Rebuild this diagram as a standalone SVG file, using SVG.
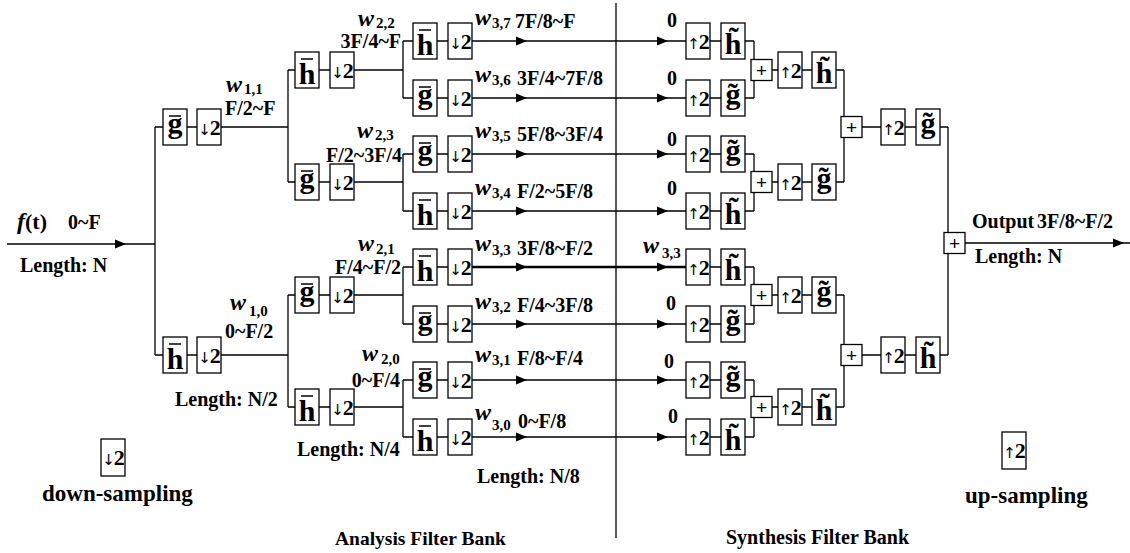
<svg xmlns="http://www.w3.org/2000/svg" xmlns:xlink="http://www.w3.org/1999/xlink" width="1130" height="553" viewBox="0 0 1130 553">
<style>
.b{fill:#fff;stroke:#000;stroke-width:1.3}
.t{font-family:"Liberation Serif","DejaVu Serif",serif;font-weight:bold;fill:#000}
.l{font-size:20px}
.op{font-size:22px;text-anchor:middle;letter-spacing:-1px}
.ar{font-family:"DejaVu Sans",sans-serif;font-weight:normal;font-size:15px;fill:#000}
.f{font-size:30px;text-anchor:middle}
.w{font-style:italic;font-size:24px}
.s{font-size:15px}
.e{text-anchor:end}
.pl{font-family:"Liberation Sans","DejaVu Sans",sans-serif;font-size:19px;text-anchor:middle;fill:#000}
.bar{stroke:#000;stroke-width:1.5}
.c path{stroke:#000;stroke-width:1.3;fill:none}
.ah{fill:#000}
</style>
<defs>
<path id="ah" d="M0 0L-11 -4.5L-11 4.5Z"/>
</defs>
<rect width="1130" height="553" fill="#fff"/>

<!-- connectors -->
<g id="connectors" class="c">
<path d="M7 244H155M155 127V355M155 127H163M155 355H163M187 127H197M187 355H197M221 127H288M221 355H288"/>
<path d="M288 70V182M288 295V407M288 70H295M288 182H295M288 295H295M288 407H295M319 70H330M319 182H330M319 295H330M319 407H330M354 70H403M354 182H403M354 295H403M354 407H403"/>
<path d="M403 41V98M403 154V211M403 267V324M403 380V437M403 41H413M403 98H413M403 154H413M403 211H413M403 267H413M403 324H413M403 380H413M403 437H413M437 41H448M437 98H448M437 154H448M437 211H448M437 267H448M437 324H448M437 380H448M437 437H448"/>
<path d="M472 41H686M472 98H686M472 154H686M472 211H686M472 324H686M472 380H686M472 437H686"/>
<path d="M472 267H686" style="stroke-width:2.6"/>
<path d="M616 3V538"/>
<path d="M710 41H721M710 98H721M710 154H721M710 211H721M710 267H721M710 324H721M710 380H721M710 437H721M745 41H754M745 98H754M745 154H754M745 211H754M745 267H754M745 324H754M745 380H754M745 437H754M754 41V98M754 154V211M754 267V324M754 380V437"/>
<path d="M772 70H778M772 182H778M772 295H778M772 407H778M802 70H812M802 182H812M802 295H812M802 407H812M836 70H844M836 182H844M836 295H844M836 407H844M844 70V182M844 295V407"/>
<path d="M862 127H881M862 355H881M905 127H916M905 355H916M940 127H948M940 355H948M948 127V355M965 243H1130"/>
<g class="ah">
<use xlink:href="#ah" x="126" y="244"/>
<use xlink:href="#ah" x="1124" y="243"/>
<use xlink:href="#ah" x="527" y="41"/><use xlink:href="#ah" x="668" y="41"/>
<use xlink:href="#ah" x="527" y="98"/><use xlink:href="#ah" x="668" y="98"/>
<use xlink:href="#ah" x="527" y="154"/><use xlink:href="#ah" x="668" y="154"/>
<use xlink:href="#ah" x="527" y="211"/><use xlink:href="#ah" x="668" y="211"/>
<use xlink:href="#ah" x="527" y="267"/><use xlink:href="#ah" x="668" y="267"/>
<use xlink:href="#ah" x="527" y="324"/><use xlink:href="#ah" x="668" y="324"/>
<use xlink:href="#ah" x="527" y="380"/><use xlink:href="#ah" x="668" y="380"/>
<use xlink:href="#ah" x="527" y="437"/><use xlink:href="#ah" x="668" y="437"/>
</g>
</g>

<!-- analysis level 1 -->
<g id="a1g"><rect class="b" x="163" y="109" width="24" height="36"/><line class="bar" x1="169" y1="116" x2="181" y2="116"/><text class="t f" x="175" y="133">g</text></g>
<g id="a1d1"><rect class="b" x="197" y="109" width="24" height="36"/><text class="t op" x="209" y="135"><tspan class="ar">↓</tspan>2</text></g>
<g id="a1h"><rect class="b" x="163" y="337" width="24" height="36"/><line class="bar" x1="169" y1="344" x2="181" y2="344"/><text class="t f" x="175" y="369">h</text></g>
<g id="a1d0"><rect class="b" x="197" y="337" width="24" height="36"/><text class="t op" x="209" y="363"><tspan class="ar">↓</tspan>2</text></g>

<!-- analysis level 2 -->
<g id="a2h2"><rect class="b" x="295" y="52" width="24" height="36"/><line class="bar" x1="301" y1="59" x2="313" y2="59"/><text class="t f" x="307" y="84">h</text></g>
<g id="a2d2"><rect class="b" x="330" y="52" width="24" height="36"/><text class="t op" x="342" y="78"><tspan class="ar">↓</tspan>2</text></g>
<g id="a2g3"><rect class="b" x="295" y="164" width="24" height="36"/><line class="bar" x1="301" y1="171" x2="313" y2="171"/><text class="t f" x="307" y="188">g</text></g>
<g id="a2d3"><rect class="b" x="330" y="164" width="24" height="36"/><text class="t op" x="342" y="190"><tspan class="ar">↓</tspan>2</text></g>
<g id="a2g1"><rect class="b" x="295" y="277" width="24" height="36"/><line class="bar" x1="301" y1="284" x2="313" y2="284"/><text class="t f" x="307" y="301">g</text></g>
<g id="a2d1"><rect class="b" x="330" y="277" width="24" height="36"/><text class="t op" x="342" y="303"><tspan class="ar">↓</tspan>2</text></g>
<g id="a2h0"><rect class="b" x="295" y="389" width="24" height="36"/><line class="bar" x1="301" y1="396" x2="313" y2="396"/><text class="t f" x="307" y="421">h</text></g>
<g id="a2d0"><rect class="b" x="330" y="389" width="24" height="36"/><text class="t op" x="342" y="415"><tspan class="ar">↓</tspan>2</text></g>

<!-- analysis level 3 -->
<g id="a3h7"><rect class="b" x="413" y="23" width="24" height="36"/><line class="bar" x1="419" y1="30" x2="431" y2="30"/><text class="t f" x="425" y="55">h</text></g>
<g id="a3d7"><rect class="b" x="448" y="23" width="24" height="36"/><text class="t op" x="460" y="49"><tspan class="ar">↓</tspan>2</text></g>
<g id="a3g6"><rect class="b" x="413" y="80" width="24" height="36"/><line class="bar" x1="419" y1="87" x2="431" y2="87"/><text class="t f" x="425" y="104">g</text></g>
<g id="a3d6"><rect class="b" x="448" y="80" width="24" height="36"/><text class="t op" x="460" y="106"><tspan class="ar">↓</tspan>2</text></g>
<g id="a3g5"><rect class="b" x="413" y="136" width="24" height="36"/><line class="bar" x1="419" y1="143" x2="431" y2="143"/><text class="t f" x="425" y="160">g</text></g>
<g id="a3d5"><rect class="b" x="448" y="136" width="24" height="36"/><text class="t op" x="460" y="162"><tspan class="ar">↓</tspan>2</text></g>
<g id="a3h4"><rect class="b" x="413" y="193" width="24" height="36"/><line class="bar" x1="419" y1="200" x2="431" y2="200"/><text class="t f" x="425" y="225">h</text></g>
<g id="a3d4"><rect class="b" x="448" y="193" width="24" height="36"/><text class="t op" x="460" y="219"><tspan class="ar">↓</tspan>2</text></g>
<g id="a3h3"><rect class="b" x="413" y="249" width="24" height="36"/><line class="bar" x1="419" y1="256" x2="431" y2="256"/><text class="t f" x="425" y="281">h</text></g>
<g id="a3d3"><rect class="b" x="448" y="249" width="24" height="36"/><text class="t op" x="460" y="275"><tspan class="ar">↓</tspan>2</text></g>
<g id="a3g2"><rect class="b" x="413" y="306" width="24" height="36"/><line class="bar" x1="419" y1="313" x2="431" y2="313"/><text class="t f" x="425" y="330">g</text></g>
<g id="a3d2"><rect class="b" x="448" y="306" width="24" height="36"/><text class="t op" x="460" y="332"><tspan class="ar">↓</tspan>2</text></g>
<g id="a3g1"><rect class="b" x="413" y="362" width="24" height="36"/><line class="bar" x1="419" y1="369" x2="431" y2="369"/><text class="t f" x="425" y="386">g</text></g>
<g id="a3d1"><rect class="b" x="448" y="362" width="24" height="36"/><text class="t op" x="460" y="388"><tspan class="ar">↓</tspan>2</text></g>
<g id="a3h0"><rect class="b" x="413" y="419" width="24" height="36"/><line class="bar" x1="419" y1="426" x2="431" y2="426"/><text class="t f" x="425" y="451">h</text></g>
<g id="a3d0"><rect class="b" x="448" y="419" width="24" height="36"/><text class="t op" x="460" y="445"><tspan class="ar">↓</tspan>2</text></g>

<!-- synthesis level 3 -->
<g id="s3u7"><rect class="b" x="686" y="23" width="24" height="36"/><text class="t op" x="698" y="49"><tspan class="ar">↑</tspan>2</text></g>
<g id="s3h7"><rect class="b" x="721" y="23" width="24" height="36"/><text class="t f" x="733" y="54">h&#x303;</text></g>
<g id="s3u6"><rect class="b" x="686" y="80" width="24" height="36"/><text class="t op" x="698" y="106"><tspan class="ar">↑</tspan>2</text></g>
<g id="s3g6"><rect class="b" x="721" y="80" width="24" height="36"/><text class="t f" x="733" y="104">g&#x303;</text></g>
<g id="s3u5"><rect class="b" x="686" y="136" width="24" height="36"/><text class="t op" x="698" y="162"><tspan class="ar">↑</tspan>2</text></g>
<g id="s3g5"><rect class="b" x="721" y="136" width="24" height="36"/><text class="t f" x="733" y="160">g&#x303;</text></g>
<g id="s3u4"><rect class="b" x="686" y="193" width="24" height="36"/><text class="t op" x="698" y="219"><tspan class="ar">↑</tspan>2</text></g>
<g id="s3h4"><rect class="b" x="721" y="193" width="24" height="36"/><text class="t f" x="733" y="224">h&#x303;</text></g>
<g id="s3u3"><rect class="b" x="686" y="249" width="24" height="36"/><text class="t op" x="698" y="275"><tspan class="ar">↑</tspan>2</text></g>
<g id="s3h3"><rect class="b" x="721" y="249" width="24" height="36"/><text class="t f" x="733" y="280">h&#x303;</text></g>
<g id="s3u2"><rect class="b" x="686" y="306" width="24" height="36"/><text class="t op" x="698" y="332"><tspan class="ar">↑</tspan>2</text></g>
<g id="s3g2"><rect class="b" x="721" y="306" width="24" height="36"/><text class="t f" x="733" y="330">g&#x303;</text></g>
<g id="s3u1"><rect class="b" x="686" y="362" width="24" height="36"/><text class="t op" x="698" y="388"><tspan class="ar">↑</tspan>2</text></g>
<g id="s3g1"><rect class="b" x="721" y="362" width="24" height="36"/><text class="t f" x="733" y="386">g&#x303;</text></g>
<g id="s3u0"><rect class="b" x="686" y="419" width="24" height="36"/><text class="t op" x="698" y="445"><tspan class="ar">↑</tspan>2</text></g>
<g id="s3h0"><rect class="b" x="721" y="419" width="24" height="36"/><text class="t f" x="733" y="450">h&#x303;</text></g>

<!-- adders level 3 -> 2 -->
<g id="p2a"><rect class="b" x="751" y="59.5" width="21" height="21"/><text class="pl" x="761.5" y="77">+</text></g>
<g id="p2b"><rect class="b" x="751" y="171.5" width="21" height="21"/><text class="pl" x="761.5" y="189">+</text></g>
<g id="p2c"><rect class="b" x="751" y="284.5" width="21" height="21"/><text class="pl" x="761.5" y="302">+</text></g>
<g id="p2d"><rect class="b" x="751" y="396.5" width="21" height="21"/><text class="pl" x="761.5" y="414">+</text></g>

<!-- synthesis level 2 -->
<g id="s2u2"><rect class="b" x="778" y="52" width="24" height="36"/><text class="t op" x="790" y="78"><tspan class="ar">↑</tspan>2</text></g>
<g id="s2h2"><rect class="b" x="812" y="52" width="24" height="36"/><text class="t f" x="824" y="83">h&#x303;</text></g>
<g id="s2u3"><rect class="b" x="778" y="164" width="24" height="36"/><text class="t op" x="790" y="190"><tspan class="ar">↑</tspan>2</text></g>
<g id="s2g3"><rect class="b" x="812" y="164" width="24" height="36"/><text class="t f" x="824" y="188">g&#x303;</text></g>
<g id="s2u1"><rect class="b" x="778" y="277" width="24" height="36"/><text class="t op" x="790" y="303"><tspan class="ar">↑</tspan>2</text></g>
<g id="s2g1"><rect class="b" x="812" y="277" width="24" height="36"/><text class="t f" x="824" y="301">g&#x303;</text></g>
<g id="s2u0"><rect class="b" x="778" y="389" width="24" height="36"/><text class="t op" x="790" y="415"><tspan class="ar">↑</tspan>2</text></g>
<g id="s2h0"><rect class="b" x="812" y="389" width="24" height="36"/><text class="t f" x="824" y="420">h&#x303;</text></g>

<!-- adders level 2 -> 1 -->
<g id="p1a"><rect class="b" x="841" y="116.5" width="21" height="21"/><text class="pl" x="851.5" y="134">+</text></g>
<g id="p1b"><rect class="b" x="841" y="344.5" width="21" height="21"/><text class="pl" x="851.5" y="362">+</text></g>

<!-- synthesis level 1 -->
<g id="s1u1"><rect class="b" x="881" y="109" width="24" height="36"/><text class="t op" x="893" y="135"><tspan class="ar">↑</tspan>2</text></g>
<g id="s1g1"><rect class="b" x="916" y="109" width="24" height="36"/><text class="t f" x="928" y="133">g&#x303;</text></g>
<g id="s1u0"><rect class="b" x="881" y="337" width="24" height="36"/><text class="t op" x="893" y="363"><tspan class="ar">↑</tspan>2</text></g>
<g id="s1h0"><rect class="b" x="916" y="337" width="24" height="36"/><text class="t f" x="928" y="368">h&#x303;</text></g>

<!-- final adder -->
<g id="p0"><rect class="b" x="944" y="232.5" width="21" height="21"/><text class="pl" x="954.5" y="250">+</text></g>

<!-- legends -->
<g id="legend-down"><rect class="b" x="101" y="439" width="24" height="37"/><text class="t op" x="113" y="465"><tspan class="ar">↓</tspan>2</text><text class="t" x="42" y="501" font-size="23">down-sampling</text></g>
<g id="legend-up"><rect class="b" x="1002" y="432" width="24" height="37"/><text class="t op" x="1014" y="458"><tspan class="ar">↑</tspan>2</text><text class="t" x="965" y="503" font-size="23">up-sampling</text></g>

<!-- labels -->
<g id="labels" class="t">
<text x="17" y="229"><tspan class="w" font-size="27">f</tspan><tspan font-size="22">(t)</tspan></text>
<text class="l" x="68" y="229">0~F</text>
<text class="l" x="20" y="272">Length: N</text>

<text class="w" x="226" y="92">w</text><text class="s" x="244" y="94">1,1</text>
<text class="l" x="225" y="115">F/2~F</text>
<text class="w" x="230" y="310">w</text><text class="s" x="249" y="316">1,0</text>
<text class="l" x="225" y="338">0~F/2</text>
<text class="l" x="175" y="406">Length: N/2</text>

<text class="w" x="358" y="26">w</text><text class="s" x="376" y="28">2,2</text>
<text class="l e" x="401" y="48">3F/4~F</text>
<text class="w" x="357" y="138">w</text><text class="s" x="375" y="140">2,3</text>
<text class="l e" x="402" y="162">F/2~3F/4</text>
<text class="w" x="358" y="251">w</text><text class="s" x="376" y="254">2,1</text>
<text class="l e" x="401" y="274">F/4~F/2</text>
<text class="w" x="362" y="361">w</text><text class="s" x="381" y="364">2,0</text>
<text class="l e" x="400" y="387">0~F/4</text>
<text class="l" x="297" y="456">Length: N/4</text>

<text class="w" x="475" y="25">w</text><text class="s" x="492" y="28">3,7</text><text class="l" x="515" y="28">7F/8~F</text>
<text class="w" x="475" y="82">w</text><text class="s" x="492" y="85">3,6</text><text class="l" x="517" y="85">3F/4~7F/8</text>
<text class="w" x="475" y="138">w</text><text class="s" x="492" y="141">3,5</text><text class="l" x="517" y="141">5F/8~3F/4</text>
<text class="w" x="475" y="195">w</text><text class="s" x="492" y="198">3,4</text><text class="l" x="517" y="198">F/2~5F/8</text>
<text class="w" x="475" y="251">w</text><text class="s" x="492" y="255">3,3</text><text class="l" x="517" y="255">3F/8~F/2</text>
<text class="w" x="475" y="309">w</text><text class="s" x="492" y="312">3,2</text><text class="l" x="517" y="312">F/4~3F/8</text>
<text class="w" x="475" y="362">w</text><text class="s" x="492" y="365">3,1</text><text class="l" x="517" y="365">F/8~F/4</text>
<text class="w" x="475" y="420">w</text><text class="s" x="492" y="430">3,0</text><text class="l" x="518" y="428">0~F/8</text>
<text class="l" x="477" y="483">Length: N/8</text>

<text class="l" x="667" y="27">0</text>
<text class="l" x="667" y="85">0</text>
<text class="l" x="667" y="146">0</text>
<text class="l" x="667" y="195">0</text>
<text class="w" x="643" y="253">w</text><text class="s" x="662" y="258">3,3</text>
<text class="l" x="666" y="310">0</text>
<text class="l" x="664" y="368">0</text>
<text class="l" x="668" y="423">0</text>

<text class="l" x="972" y="228">Output</text>
<text class="l" x="1037" y="228">3F/8~F/2</text>
<text class="l" x="975" y="263">Length: N</text>

<text x="335" y="545" font-size="19.5">Analysis Filter Bank</text>
<text x="726" y="544" font-size="20">Synthesis Filter Bank</text>
</g>
</svg>
